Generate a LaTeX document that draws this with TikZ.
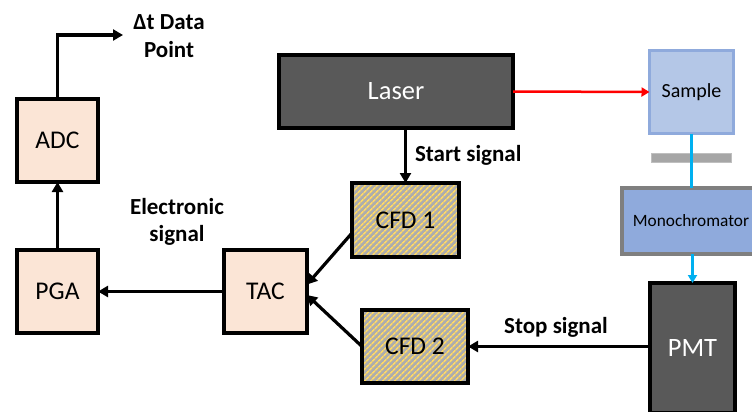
\documentclass[tikz,border=0pt]{standalone}
\usepackage{fontspec}
\setmainfont{Carlito}
\usetikzlibrary{arrows.meta,patterns.meta,calc}

\definecolor{peach}{HTML}{FBE5D6}
\definecolor{darkbox}{HTML}{595959}
\definecolor{samplefill}{HTML}{B4C7E7}
\definecolor{sampleedge}{HTML}{8FAADC}
\definecolor{monofill}{HTML}{8FAADC}
\definecolor{monoedge}{HTML}{7F7F7F}
\definecolor{barfill}{HTML}{A6A6A6}
\definecolor{baredge}{HTML}{BFBFBF}
\definecolor{stripegray}{HTML}{ADADAD}
\definecolor{stripeyellow}{HTML}{FFD966}
\definecolor{lightpath}{HTML}{00B0F0}
\definecolor{laserred}{HTML}{FF0000}

\tikzset{
  every node/.style={inner sep=0pt, outer sep=0pt},
  elec/.style={draw=black, line width=4pt, fill=peach, font=\fontsize{25.5}{30}\selectfont},
  darkunit/.style={draw=black, line width=4pt, fill=darkbox, text=white, font=\fontsize{26.5}{30}\selectfont},
  cfdbox/.style={draw=black, line width=4pt, preaction={fill=stripegray},
    pattern={Lines[angle=45,distance=4pt,line width=1.7pt]}, pattern color=stripeyellow,
    font=\fontsize{25.5}{30}\selectfont},
  conn/.style={line width=3.2pt, -{Triangle[length=10pt,width=11pt]}},
  beam/.style={line width=2.5pt, -{Triangle[length=8pt,width=9pt]}},
  siglabel/.style={font=\bfseries\fontsize{23}{27.5}\selectfont, align=center},
}

\begin{document}
\begin{tikzpicture}[x=1pt,y=-1pt]
\useasboundingbox (0,0) rectangle (752,412);
\clip (0,0) rectangle (752,412);

% electronics chain
\node[elec, minimum width=81pt, minimum height=83pt] (adc) at (57.5,140.5) {ADC};
\node[elec, minimum width=81pt, minimum height=83pt] (pga) at (57.5,291.5) {PGA};
\node[elec, minimum width=83pt, minimum height=83pt] (tac) at (265.5,291.5) {TAC};

% constant fraction discriminators
\node[cfdbox, minimum width=107pt, minimum height=74pt] (cfd1) at (405.5,220) {CFD 1};
\node[cfdbox, minimum width=106pt, minimum height=73pt] (cfd2) at (415,346.5) {CFD 2};

% laser and detector
\node[darkunit, minimum width=234pt, minimum height=73pt] (laser) at (396,91.5) {Laser};
\node[darkunit, minimum width=85pt, minimum height=130pt] (pmt) at (692.5,348) {PMT};

% optical path
\node[draw=sampleedge, line width=3pt, fill=samplefill, minimum width=84pt, minimum height=83pt,
      font=\fontsize{20}{24}\selectfont] (sample) at (691.5,92) {Sample};
\node[draw=baredge, line width=1pt, fill=barfill, minimum width=80pt, minimum height=9pt] (filter) at (691.5,158) {};
\node[draw=monoedge, line width=4pt, fill=monofill, minimum width=138pt, minimum height=66pt,
      font=\fontsize{17.3}{20}\selectfont] (mono) at (691,221) {Monochromator};

\coordinate (dtout) at (123,35);

% connectors
\draw[conn] (adc.north) |- (dtout);
\draw[conn] (pga.north) -- (adc.south);
\draw[conn] (tac.west) -- (pga.east);
\draw[conn] (cfd1.north |- laser.south) -- (cfd1.north);
\draw[conn] ($(cfd1.west)+(0,13)$) -- ($(tac.east)+(0,-7)$);
\draw[conn] (cfd2.west) -- ($(tac.east)+(0,3.5)$);
\draw[conn] (pmt.west |- cfd2.east) -- (cfd2.east);
\draw[beam, laserred] (laser.east) -- (sample.west);
\draw[line width=2.5pt, lightpath] (sample.south) -- (mono.north -| sample.south);
\draw[beam, lightpath] (mono.south -| pmt.north) -- (pmt.north);

% labels
\node[siglabel] (dtlabel) at (169,36) {Δt Data\\Point};
\node[siglabel, anchor=west] (startlabel) at (415,155) {Start signal};
\node[siglabel] (eleclabel) at (177,222) {Electronic\\signal};
\node[siglabel] (stoplabel) at (556,327) {Stop signal};
\end{tikzpicture}
\end{document}
